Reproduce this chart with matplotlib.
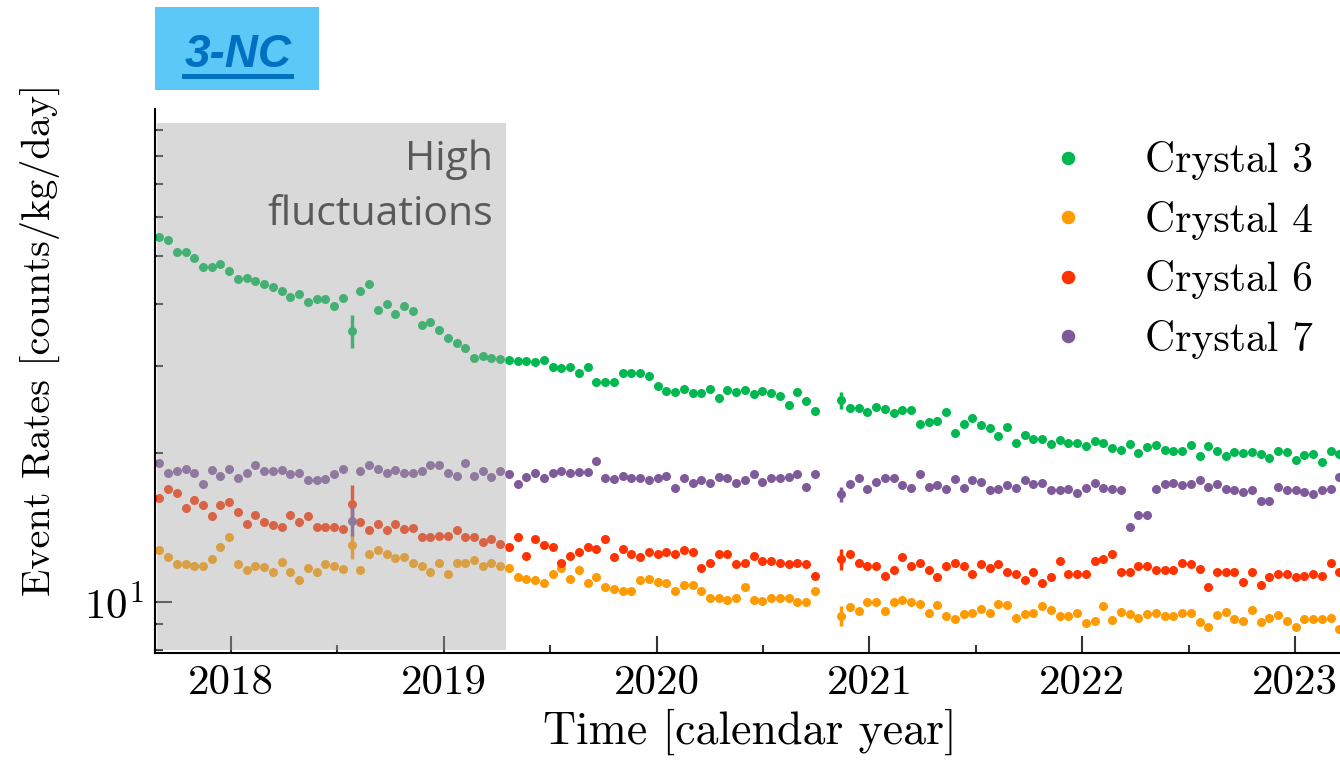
import numpy as np
import matplotlib
matplotlib.use("Agg")
import matplotlib.pyplot as plt
from matplotlib.ticker import MultipleLocator, FormatStrFormatter, LogLocator, NullFormatter
from matplotlib.patches import Rectangle
from matplotlib.lines import Line2D

plt.rcParams['font.family'] = ['cmr10', 'DejaVu Serif']
plt.rcParams['mathtext.fontset'] = 'cm'
plt.rcParams['axes.formatter.use_mathtext'] = True
plt.rcParams['axes.unicode_minus'] = False

# measurements every 15 days, starting late August 2017 (decimal years)
t_start = 2017.664
step_days = 15
n_points = 136
time = t_start + np.arange(n_points) * step_days / 365.25

nan = np.nan
crystal3 = [54.7, 54.0, 51.1, 51.0, 49.7, 47.6, 47.7, 48.3, 46.8, 45.1,
            45.3, 44.5, 44.0, 43.4, 42.5, 41.3, 42.0, 40.5, 41.0, 41.0,
            39.7, 41.1, 35.4, 42.5, 43.9, 39.0, 40.1, 38.3, 39.7, 38.8,
            36.3, 36.9, 35.5, 34.2, 33.4, 32.7, 31.2, 31.4, 31.1, 31.0,
            30.8, 30.7, 30.7, 30.6, 30.8, 29.8, 29.7, 29.8, 29.0, 29.8,
            27.8, 27.9, 27.9, 29.0, 29.0, 29.0, 28.6, 27.3, 26.7, 26.6,
            27.0, 26.4, 26.5, 26.9, 25.8, 26.8, 26.6, 26.8, 26.3, 26.7,
            26.4, 26.1, 25.0, 26.6, 25.5, 24.3, nan, nan, 25.6, 24.7,
            24.7, 24.2, 24.8, 24.5, 24.1, 24.4, 24.4, 22.9, 23.1, 23.2,
            24.2, 22.0, 22.9, 23.5, 22.8, 22.5, 21.7, 22.6, 21.0, 21.8,
            21.4, 21.4, 20.9, 21.3, 21.0, 21.0, 20.7, 21.2, 21.0, 20.5,
            20.3, 20.9, 20.0, 20.6, 20.8, 20.3, 20.2, 20.2, 20.8, 19.7,
            20.7, 20.2, 19.7, 20.1, 20.0, 20.1, 19.9, 19.5, 20.2, 20.1,
            19.4, 19.8, 19.9, 19.2, 20.2, 19.9]
crystal4 = [12.7, 12.3, 11.9, 11.95, 11.8, 11.8, 12.2, 12.9, 13.5, 11.9,
            11.6, 11.8, 11.75, 11.5, 12.05, 11.5, 11.05, 11.7, 11.5, 11.9,
            11.8, 11.65, 13.0, 11.6, 12.5, 12.7, 12.5, 12.25, 12.3, 12.0,
            11.8, 11.5, 12.0, 11.4, 12.0, 12.0, 12.15, 11.8, 12.0, 11.8,
            11.7, 11.2, 11.1, 11.05, 10.9, 11.4, 11.7, 11.1, 11.6, 10.9,
            11.2, 10.7, 10.6, 10.5, 10.5, 11.05, 11.1, 10.95, 10.9, 10.5,
            10.8, 10.8, 10.5, 10.2, 10.2, 10.1, 10.2, 10.7, 10.1, 10.05,
            10.2, 10.2, 10.2, 10.0, 10.0, 10.5, nan, nan, 9.37, 9.77,
            9.6, 10.0, 10.0, 9.57, 10.0, 10.1, 10.0, 9.88, 9.5, 9.85,
            9.37, 9.22, 9.43, 9.5, 9.66, 9.5, 9.9, 9.83, 9.28, 9.43,
            9.47, 9.79, 9.62, 9.37, 9.34, 9.5, 9.06, 9.15, 9.79, 9.18,
            9.54, 9.43, 9.25, 9.43, 9.5, 9.35, 9.35, 9.5, 9.5, 9.08,
            8.87, 9.4, 9.54, 9.21, 9.14, 9.62, 9.09, 9.25, 9.4, 9.14,
            8.9, 9.22, 9.22, 9.22, 9.25, 8.8]
crystal6 = [16.2, 16.9, 16.6, 15.5, 16.1, 15.7, 14.9, 15.7, 15.9, 15.2,
            14.4, 15.0, 14.5, 14.3, 14.2, 15.0, 14.5, 14.9, 14.2, 14.2,
            14.2, 14.05, 15.8, 14.5, 14.0, 14.4, 14.0, 14.4, 14.05, 14.1,
            13.5, 13.5, 13.6, 13.6, 14.0, 13.5, 13.5, 13.2, 13.4, 13.1,
            12.9, 13.5, 12.4, 13.4, 13.0, 12.9, 12.0, 12.4, 12.6, 12.9,
            12.8, 13.4, 12.3, 12.8, 12.5, 12.3, 12.6, 12.5, 12.6, 12.5,
            12.7, 12.6, 11.7, 12.0, 12.5, 12.5, 11.9, 12.0, 12.4, 12.1,
            12.1, 12.0, 11.9, 12.0, 11.9, 11.3, nan, nan, 12.2, 12.5,
            12.0, 11.8, 11.8, 11.3, 11.6, 12.3, 11.8, 12.0, 11.6, 11.2,
            11.8, 12.0, 11.8, 11.4, 11.9, 11.7, 11.9, 11.5, 11.4, 11.05,
            11.5, 10.9, 11.2, 12.1, 11.4, 11.4, 11.4, 12.1, 12.2, 12.5,
            11.5, 11.5, 11.8, 11.8, 11.6, 11.6, 11.6, 12.0, 11.9, 11.65,
            10.7, 11.5, 11.5, 11.5, 10.95, 11.5, 10.8, 11.2, 11.4, 11.4,
            11.2, 11.3, 11.4, 11.3, 12.0, 11.5]
crystal7 = [19.1, 18.2, 18.4, 18.6, 18.2, 17.3, 18.5, 18.0, 18.6, 17.8,
            18.2, 18.9, 18.4, 18.4, 18.5, 18.1, 18.2, 17.6, 17.6, 17.7,
            18.1, 18.6, 14.6, 18.4, 18.9, 18.6, 18.2, 18.5, 18.2, 18.2,
            18.4, 18.9, 18.9, 18.2, 18.0, 19.1, 18.0, 18.4, 17.9, 18.4,
            18.1, 17.3, 17.9, 18.2, 17.8, 18.2, 18.4, 18.2, 18.3, 18.3,
            19.3, 17.8, 17.7, 18.0, 17.8, 17.8, 17.6, 17.8, 18.0, 17.0,
            17.8, 17.4, 17.6, 17.4, 17.9, 17.8, 17.4, 17.6, 18.1, 17.5,
            17.8, 17.8, 17.9, 18.1, 17.1, 18.1, nan, nan, 16.5, 17.3,
            17.8, 16.9, 17.5, 17.8, 17.8, 17.2, 17.0, 18.1, 17.1, 17.2,
            16.9, 17.7, 17.0, 17.6, 17.5, 16.8, 16.9, 17.2, 17.0, 17.6,
            17.3, 17.4, 16.8, 16.8, 16.9, 16.6, 17.0, 17.4, 17.0, 16.9,
            16.8, 14.2, 15.0, 15.0, 16.9, 17.3, 17.4, 17.2, 17.3, 17.6,
            17.1, 17.3, 16.9, 16.8, 16.7, 16.8, 16.0, 16.0, 17.1, 16.8,
            16.8, 16.7, 16.5, 16.8, 16.9, 17.9]

# only two measurements have visible uncertainties (index 22 and 78)
err3 = np.zeros(n_points); err3[22] = 2.7; err3[78] = 1.0
err4 = np.zeros(n_points); err4[22] = 0.8; err4[78] = 0.45
err6 = np.zeros(n_points); err6[22] = 1.4; err6[78] = 0.6
err7 = np.zeros(n_points); err7[22] = 1.0; err7[78] = 0.6

labels = ['Crystal 3', 'Crystal 4', 'Crystal 6', 'Crystal 7']
colors = ['#00b84f', '#ff9a00', '#ff3300', '#7f5a9b']
series = [crystal3, crystal4, crystal6, crystal7]
errors = [err3, err4, err6, err7]

fluct_start, fluct_end = 2017.652, 2019.294

fig = plt.figure(figsize=(13.4, 7.68), dpi=100)
ax = fig.add_axes([0.1157, 0.1497, 0.8843, 0.7087])

for vals, errs, col, lab in zip(series, errors, colors, labels):
    ax.errorbar(time, vals, yerr=errs, fmt='none', ecolor=col, elinewidth=2.5, capsize=0, zorder=2)
    ax.plot(time, vals, 'o', color=col, markersize=6.5, markeredgewidth=0, label=lab, zorder=2)

ax.set_yscale('log')
ax.set_xlim(2017.644, 2023.211)
ax.set_ylim(7.875, 99.5)

ax.axvspan(fluct_start, fluct_end, ymin=0.0055, ymax=0.9735,
           color=(0.65, 0.65, 0.65), alpha=0.42, lw=0, zorder=3)
ax.text(0.2852, 0.8874, 'High', transform=ax.transAxes, ha='right', va='baseline',
        fontsize=29.5, family='Open Sans', color='#595959', zorder=4)
ax.text(0.2852, 0.7863, 'fluctuations', transform=ax.transAxes, ha='right', va='baseline',
        fontsize=29.5, family='Open Sans', color='#595959', zorder=4)

ax.xaxis.set_major_locator(MultipleLocator(1))
ax.xaxis.set_minor_locator(MultipleLocator(0.5))
ax.xaxis.set_major_formatter(FormatStrFormatter('%d'))
ax.yaxis.set_minor_locator(LogLocator(base=10, subs=np.arange(2, 10)))
ax.yaxis.set_minor_formatter(NullFormatter())

for s in ['top', 'right']:
    ax.spines[s].set_visible(False)
for s in ['left', 'bottom']:
    ax.spines[s].set_linewidth(1.5)
ax.tick_params(which='major', direction='in', length=12, width=1.5, color='#333333',
               labelsize=31, pad=8)
ax.tick_params(which='minor', direction='in', length=6, width=1.5, color='#333333')

ax.set_xlabel('Time [calendar year]', fontsize=33)
ax.set_ylabel('Event Rates [counts/kg/day]', fontsize=29)
ax.xaxis.set_label_coords(0.502, -0.102)
ax.yaxis.set_label_coords(-0.08, 0.575)

ax.legend(loc='upper left', bbox_to_anchor=(0.7657, 0.8158), bbox_transform=fig.transFigure,
          frameon=False, fontsize=30, markerscale=1.5, handlelength=2.0,
          handletextpad=0.86, labelspacing=0.49, borderpad=0, borderaxespad=0)

# "3-NC" tag in the top-left corner
fig.patches.append(Rectangle((0.1157, 0.8828), 0.1224, 0.1081, transform=fig.transFigure,
                             facecolor='#5bc8f7', edgecolor='none'))
fig.text(0.1776, 0.9128, '3-NC', ha='center', va='baseline', fontsize=33,
         family='Liberation Sans', weight='bold', style='italic', color='#0070c0')
fig.lines.append(Line2D([184 / 1340, 291 / 1340], [1 - 76 / 768, 1 - 76 / 768],
                        transform=fig.transFigure, color='#0070c0', linewidth=3.6))

fig.savefig('out.png', dpi=100)
